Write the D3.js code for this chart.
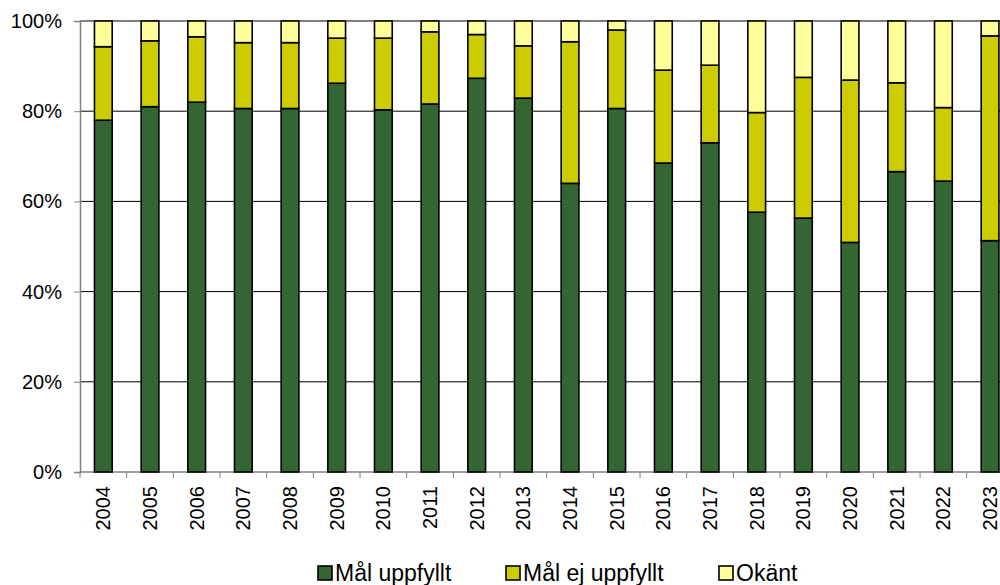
<!DOCTYPE html>
<html>
<head>
<meta charset="utf-8">
<script src="https://cdn.jsdelivr.net/npm/d3@7"></script>
<style>
  html, body { margin: 0; padding: 0; background: #fff; }
  svg { display: block; font-family: "Liberation Sans", Arial, sans-serif; }
</style>
</head>
<body>
<svg id="chart" width="1000" height="585"></svg>
<script>
// Andel (%) per år
const years = ["2004","2005","2006","2007","2008","2009","2010","2011","2012","2013",
               "2014","2015","2016","2017","2018","2019","2020","2021","2022","2023"];
const malUppfyllt   = [78.0, 81.0, 82.0, 80.6, 80.6, 86.2, 80.3, 81.6, 87.3, 82.9,
                       64.0, 80.6, 68.5, 73.0, 57.6, 56.3, 50.9, 66.6, 64.5, 51.3];
const malEjUppfyllt = [16.3, 14.6, 14.5, 14.6, 14.6, 10.0, 15.9, 16.0, 9.7, 11.6,
                       31.4, 17.4, 20.6, 17.2, 22.1, 31.2, 36.0, 19.7, 16.3, 45.4];
const okant         = [5.7, 4.4, 3.5, 4.8, 4.8, 3.8, 3.8, 2.4, 3.0, 5.5,
                       4.6, 2.0, 10.9, 9.8, 20.3, 12.5, 13.1, 13.7, 19.2, 3.3];
const seriesNames = ["Mål uppfyllt", "Mål ej uppfyllt", "Okänt"];
const seriesColors = ["#336633", "#cccc00", "#ffff99"];
const yTicks = [0, 20, 40, 60, 80, 100];

const rows = years.map((yr, i) => ({
  year: yr,
  "Mål uppfyllt": malUppfyllt[i],
  "Mål ej uppfyllt": malEjUppfyllt[i],
  "Okänt": okant[i]
}));

const svg = d3.select("#chart");
const plotLeft = 80, plotTop = 21, plotBottom = 472, plotRight = 1013.4;

const x = d3.scaleBand().domain(years).range([plotLeft, plotRight]).padding(0);
const y = d3.scaleLinear().domain([0, 100]).range([plotBottom, plotTop]);
const color = d3.scaleOrdinal().domain(seriesNames).range(seriesColors);

// gridlines
svg.append("g")
  .selectAll("line")
  .data(yTicks.filter(d => d > 0))
  .join("line")
  .attr("x1", plotLeft).attr("x2", 1000)
  .attr("y1", d => y(d)).attr("y2", d => y(d))
  .attr("stroke", "#000").attr("stroke-width", 1);

// y axis
const yAxis = svg.append("g")
  .attr("transform", `translate(${plotLeft},0)`)
  .call(d3.axisLeft(y).tickValues(yTicks).tickSize(6).tickPadding(12)
        .tickFormat(d => d + "%"));
yAxis.select(".domain").attr("stroke", "#808080").attr("stroke-width", 1.5);
yAxis.selectAll(".tick line").attr("stroke", "#808080");
yAxis.selectAll(".tick text")
  .attr("font-size", 20).attr("fill", "#000")
  .attr("font-family", "'Liberation Sans', Arial, sans-serif");

// x axis with ticks between categories
const xAxis = svg.append("g").attr("transform", `translate(0,${plotBottom})`);
xAxis.append("line")
  .attr("x1", plotLeft).attr("x2", 1000)
  .attr("y1", 0).attr("y2", 0)
  .attr("stroke", "#808080").attr("stroke-width", 1.5);
xAxis.selectAll("line.tk")
  .data(years)
  .join("line").attr("class", "tk")
  .attr("x1", d => x(d)).attr("x2", d => x(d))
  .attr("y1", 0).attr("y2", 6)
  .attr("stroke", "#808080");
xAxis.selectAll("text")
  .data(years)
  .join("text")
  .attr("transform", d => `translate(${x(d) + x.bandwidth() / 2 + 7},14) rotate(-90)`)
  .attr("text-anchor", "end")
  .attr("font-size", 20)
  .attr("fill", "#000")
  .text(d => d);

// stacked bars
const stack = d3.stack().keys(seriesNames);
const stacked = stack(rows);
const barW = x.bandwidth() * 0.38;

svg.append("g")
  .selectAll("g")
  .data(stacked)
  .join("g")
  .attr("fill", d => color(d.key))
  .selectAll("rect")
  .data(d => d)
  .join("rect")
  .attr("x", d => x(d.data.year) + (x.bandwidth() - barW) / 2)
  .attr("y", d => y(d[1]))
  .attr("width", barW)
  .attr("height", d => y(d[0]) - y(d[1]))
  .attr("stroke", "#000")
  .attr("stroke-width", 1.6);

// legend
const legendX = [318, 506, 719];
const legend = svg.append("g");
const items = legend.selectAll("g")
  .data(seriesNames)
  .join("g")
  .attr("transform", (d, i) => `translate(${legendX[i]},566)`);
items.append("rect")
  .attr("width", 14).attr("height", 14)
  .attr("fill", d => color(d))
  .attr("stroke", "#000").attr("stroke-width", 1.6);
items.append("text")
  .attr("x", 17).attr("y", 14.8)
  .attr("font-size", 23)
  .attr("fill", "#000")
  .text(d => d);
</script>
</body>
</html>
